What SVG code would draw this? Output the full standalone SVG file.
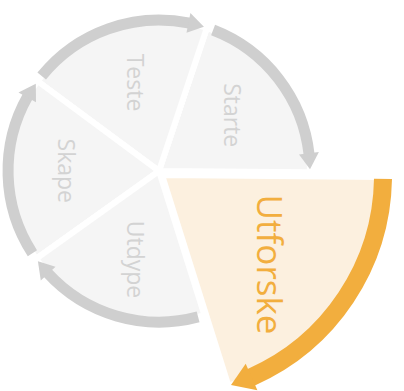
<svg xmlns="http://www.w3.org/2000/svg" width="404" height="391" viewBox="0 0 404 391">
  <style>
    .wedge { fill: #f5f5f5; stroke: #ffffff; stroke-width: 6; stroke-linejoin: miter; }
    .wedge-hi { fill: #fcf0df; stroke: #ffffff; stroke-width: 6; stroke-linejoin: miter; }
    .arc { fill: none; stroke: #cfcfcf; stroke-width: 11; stroke-linecap: butt; }
    .head { fill: #cfcfcf; }
    .arc-hi { fill: none; stroke: #f2ae3e; stroke-width: 18; stroke-linecap: butt; }
    .head-hi { fill: #f2ae3e; }
    .lbl { font-family: "Open Sans", "Noto Sans", sans-serif; font-size: 23px; fill: #d3d3d3; text-anchor: middle; }
    .lbl-hi { font-family: "Open Sans", "Noto Sans", sans-serif; font-size: 35px; fill: #f2ae3e; text-anchor: middle; }
  </style>
  <rect width="404" height="391" fill="#ffffff"/>

  <g id="node-starte">
    <path class="wedge" d="M159,171 L206.9,27.8 A151,151 0 0 1 310.0,172.3 Z"/>
    <text class="lbl" transform="translate(223.5,115.2) rotate(90)">Starte</text>
  </g>
  <g id="node-teste">
    <path class="wedge" d="M159,171 L37.6,81.2 A151,151 0 0 1 206.9,27.8 Z"/>
    <text class="lbl" transform="translate(126.7,82.5) rotate(90)">Teste</text>
  </g>
  <g id="node-skape">
    <path class="wedge" d="M159,171 L36.1,258.7 A151,151 0 0 1 37.6,81.2 Z"/>
    <text class="lbl" transform="translate(57.5,170.8) rotate(90)">Skape</text>
  </g>
  <g id="node-utdype">
    <path class="wedge" d="M159,171 L204.4,315.0 A151,151 0 0 1 36.1,258.7 Z"/>
    <text class="lbl" transform="translate(127,259.5) rotate(90)">Utdype</text>
  </g>
  <g id="node-utforske">
    <path class="wedge-hi" d="M162,175 L383.0,176.9 A221,221 0 0 1 228.5,385.8 Z"/>
    <text class="lbl-hi" transform="translate(257,264.5) rotate(90)">Utforske</text>
  </g>

  <g id="connectors">
    <path class="arc" d="M213.1,30.0 A151,151 0 0 1 309.1,154.5"/>
    <polygon class="head" points="310.0,169.2 299.0,154.4 318.9,152.0"/>

    <path class="arc" d="M41.7,76.0 A151,151 0 0 1 189.7,23.2"/>
    <polygon class="head" points="203.9,26.8 186.5,32.7 190.4,13.1"/>

    <path class="arc" d="M32.4,253.2 A151,151 0 0 1 27.9,96.1"/>
    <polygon class="head" points="35.8,83.7 36.0,102.2 18.5,92.4"/>

    <path class="arc" d="M198.1,316.9 A151,151 0 0 1 47.3,272.6"/>
    <polygon class="head" points="37.9,261.2 55.5,266.8 40.8,280.4"/>

    <path class="arc-hi" d="M383.0,178.9 A221,221 0 0 1 250.8,377.4"/>
    <polygon class="head-hi" points="231.0,384.9 245.7,363.8 257.4,390.3"/>
  </g>
</svg>
